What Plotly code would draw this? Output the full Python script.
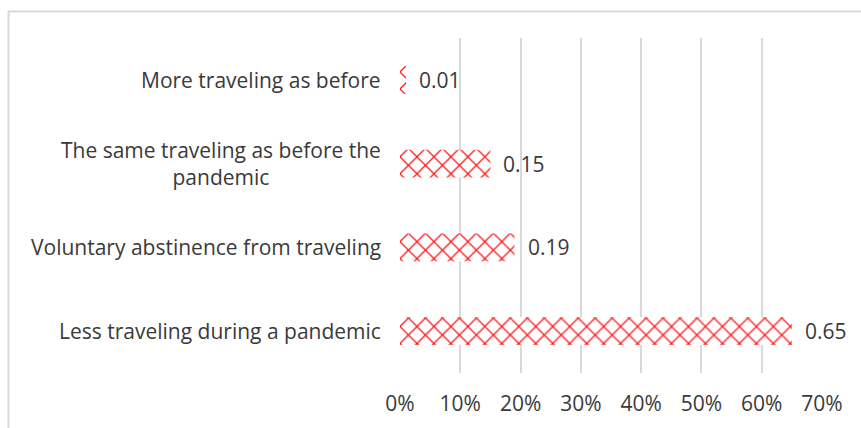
import plotly.graph_objects as go

# Survey answers, listed top to bottom as shown on the chart
categories = [
    "More traveling as before",
    "The same traveling as before the<br>pandemic",
    "Voluntary abstinence from traveling",
    "Less traveling during a pandemic",
]
shares = [0.01, 0.15, 0.19, 0.65]
tick_values = [0, 0.1, 0.2, 0.3, 0.4, 0.5, 0.6, 0.7]
tick_labels = ["0%", "10%", "20%", "30%", "40%", "50%", "60%", "70%"]

FONT = "Open Sans"
FS = 21
TEXT = "#3a3a3a"
GRID = "#d9d9d9"
W, H = 861, 428
ML, MR, MT, MB = 400, 39, 38, 55

fig = go.Figure(
    go.Bar(
        x=shares,
        y=categories,
        orientation="h",
        marker=dict(
            color="#ff1a1a",
            line=dict(width=0),
            pattern=dict(
                shape="x",
                fgcolor="#ff1a1a",
                bgcolor="white",
                size=12,
                solidity=0.2,
                fillmode="replace",
            ),
        ),
        hoverinfo="skip",
    )
)

# value labels placed just right of each bar end
for cat, val in zip(categories, shares):
    fig.add_annotation(
        x=val, y=cat, xref="x", yref="y",
        text=f"{val:.2f}", showarrow=False,
        xanchor="left", xshift=11,
        font=dict(family=FONT, size=FS, color=TEXT),
    )

# category labels, centred line by line and right-aligned against the axis
for cat in categories:
    fig.add_annotation(
        x=0, y=cat, xref="paper", yref="y",
        text=cat, showarrow=False,
        xanchor="right", xshift=-17, align="center",
        font=dict(family=FONT, size=FS, color=TEXT),
    )

# chart frame
pw, ph = W - ML - MR, H - MT - MB
fig.add_shape(
    type="rect", xref="paper", yref="paper",
    x0=(8.5 - ML) / pw, x1=(W + 20 - ML) / pw,
    y0=-(MB + 20) / ph, y1=1 + (MT - 11.5) / ph,
    line=dict(color=GRID, width=2), fillcolor="rgba(0,0,0,0)", layer="below",
)

fig.update_layout(
    width=W, height=H,
    margin=dict(l=ML, r=MR, t=MT, b=MB),
    paper_bgcolor="white", plot_bgcolor="white",
    bargap=0.666,
    showlegend=False,
    font=dict(family=FONT, size=FS, color=TEXT),
    xaxis=dict(
        range=[0, 0.7],
        tickvals=tick_values, ticktext=tick_labels,
        showgrid=True, gridcolor=GRID, gridwidth=2,
        zeroline=False, showline=False,
        ticks="", ticklabelstandoff=16,
        tickfont=dict(family=FONT, size=FS, color=TEXT),
    ),
    yaxis=dict(
        autorange="reversed",
        showticklabels=False, showgrid=False, zeroline=False, showline=False,
    ),
)

fig.write_html("out.html")
